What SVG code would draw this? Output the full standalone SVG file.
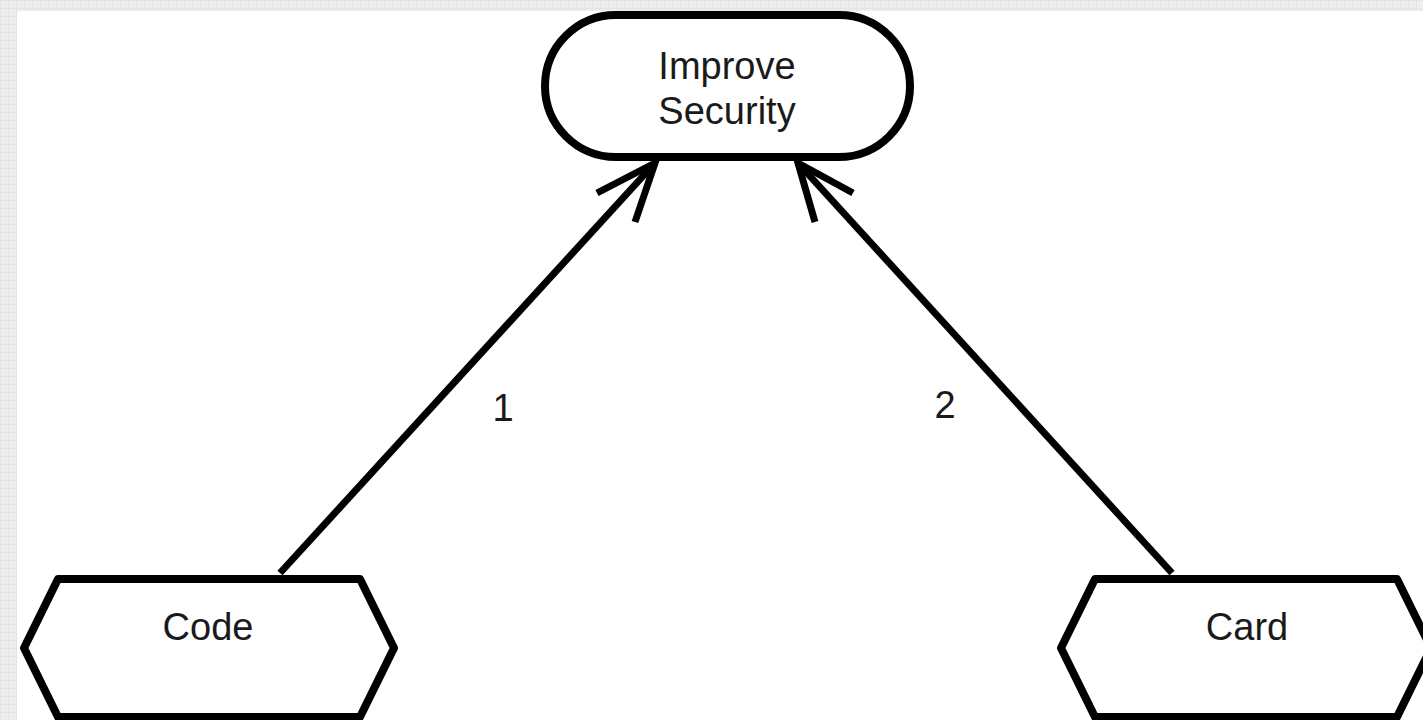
<svg xmlns="http://www.w3.org/2000/svg" width="1423" height="720" viewBox="0 0 1423 720">
  <defs>
    <pattern id="grid" width="8" height="8" patternUnits="userSpaceOnUse">
      <rect width="8" height="8" fill="#eeeeee"/>
      <path d="M0 0.5H8M0.5 0V8" stroke="#e4e4e4" stroke-width="1"/>
    </pattern>
    <style>
      .shape { fill: #ffffff; stroke: #000000; stroke-width: 8; stroke-linejoin: round; }
      .edge { fill: none; stroke: #000000; stroke-width: 7; stroke-linecap: butt; stroke-linejoin: miter; }
      .lbl { font-family: "Liberation Sans", Arial, sans-serif; font-size: 38px; fill: #1a1a1a; text-anchor: middle; }
    </style>
  </defs>
  <rect x="0" y="0" width="1423" height="720" fill="url(#grid)"/>
  <rect x="17" y="11" width="1406" height="709" fill="#ffffff"/>

  <g id="connectors">
    <g id="edge-code">
      <path class="edge" d="M280 573 L655 163"/>
      <path class="edge" d="M597 193 L655 163 L635 222"/>
      <text class="lbl" x="503" y="421">1</text>
    </g>
    <g id="edge-card">
      <path class="edge" d="M1172 573 L798 163"/>
      <path class="edge" d="M853 193 L798 163 L815 222"/>
      <text class="lbl" x="945" y="418">2</text>
    </g>
  </g>

  <g id="node-improve-security">
    <rect class="shape" x="545" y="15" width="365" height="142" rx="71" ry="71"/>
    <text class="lbl" x="727" y="79">Improve</text>
    <text class="lbl" x="727" y="124">Security</text>
  </g>

  <g id="node-code">
    <polygon class="shape" points="58,579 360,579 394,648 360,717 58,717 24,648"/>
    <text class="lbl" x="208" y="640">Code</text>
  </g>

  <g id="node-card">
    <polygon class="shape" points="1095,579 1397,579 1431,648 1397,717 1095,717 1061,648"/>
    <text class="lbl" x="1247" y="640">Card</text>
  </g>
</svg>
